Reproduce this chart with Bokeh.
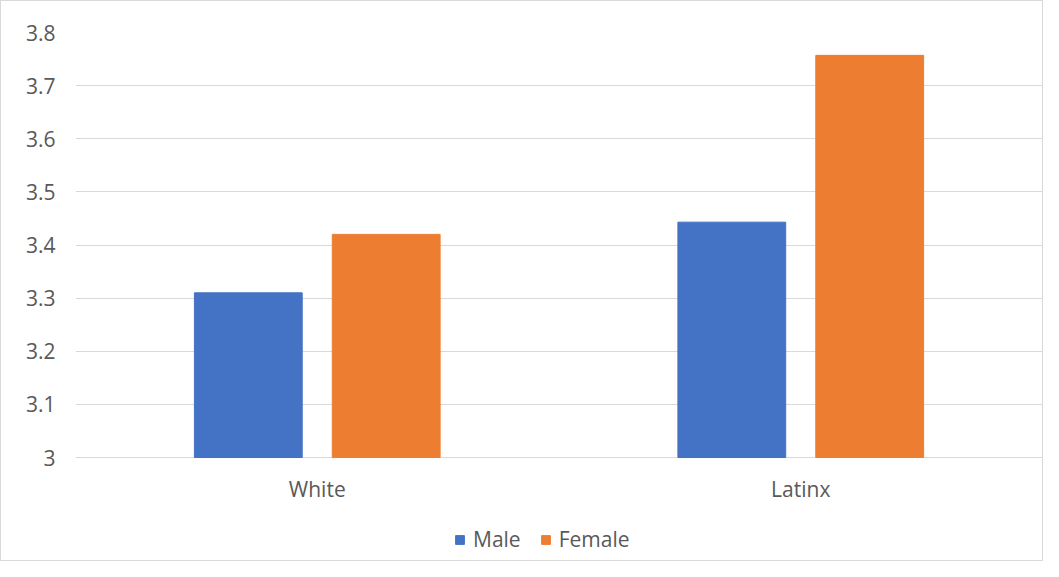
from bokeh.plotting import figure
from bokeh.models import (ColumnDataSource, FactorRange, Range1d, FixedTicker,
                          CustomJSTickFormatter, Legend, LegendItem)
from bokeh.transform import dodge
from bokeh.embed import file_html
from bokeh.resources import INLINE

groups = ["White", "Latinx"]
male = [3.31, 3.443]
female = [3.42, 3.757]
y_ticks = [3.0, 3.1, 3.2, 3.3, 3.4, 3.5, 3.6, 3.7, 3.8]

src = ColumnDataSource(dict(groups=groups, male=male, female=female,
                            base=[3.0] * len(groups)))

FONT = "Open Sans"
GREY = "#595959"
FS = "21px"

# frame extends below the value axis so that category labels and legend sit inside it
p = figure(x_range=FactorRange(*groups), y_range=Range1d(2.8024, 3.8),
           width=1043, height=561, output_backend="svg", toolbar_location=None,
           min_border_left=74, min_border_right=2, min_border_top=31,
           min_border_bottom=0)
p.styles = {"border": "1px solid #d9d9d9"}
p.outline_line_color = None

r1 = p.vbar(x=dodge("groups", -0.1426, range=p.x_range), top="male", bottom="base",
            width=0.223, source=src, color="#4472C4")
r2 = p.vbar(x=dodge("groups", 0.1426, range=p.x_range), top="female", bottom="base",
            width=0.223, source=src, color="#ED7D31")

# category labels under the baseline
p.text(x="groups", y="base", text="groups", source=src, y_offset=31,
       text_align="center", text_baseline="middle", text_font_size=FS,
       text_font={"value": FONT}, text_color=GREY)

p.xaxis.visible = False
p.yaxis.ticker = FixedTicker(ticks=y_ticks)
p.yaxis.formatter = CustomJSTickFormatter(code="return (Math.round(tick*10)/10).toString();")
p.yaxis.axis_line_color = None
p.yaxis.major_tick_line_color = None
p.yaxis.minor_tick_line_color = None
p.yaxis.major_tick_out = 0
p.yaxis.major_tick_in = 0
p.yaxis.major_label_text_font = FONT
p.yaxis.major_label_text_color = GREY
p.yaxis.major_label_text_font_size = FS
p.yaxis.major_label_standoff = 20

p.xgrid.grid_line_color = None
p.ygrid.ticker = FixedTicker(ticks=y_ticks)
p.ygrid.grid_line_color = "#d9d9d9"
p.ygrid.grid_line_width = 1

legend = Legend(items=[LegendItem(label="Male", renderers=[r1]),
                       LegendItem(label="Female", renderers=[r2])],
                orientation="horizontal", location=(379, 9),
                border_line_color=None, background_fill_alpha=0,
                label_text_font=FONT, label_text_color=GREY,
                label_text_font_size=FS, glyph_width=11, glyph_height=11,
                label_standoff=8, spacing=19, margin=0, padding=4)
p.add_layout(legend, "center")

open("out.html", "w").write(file_html(p, INLINE))
